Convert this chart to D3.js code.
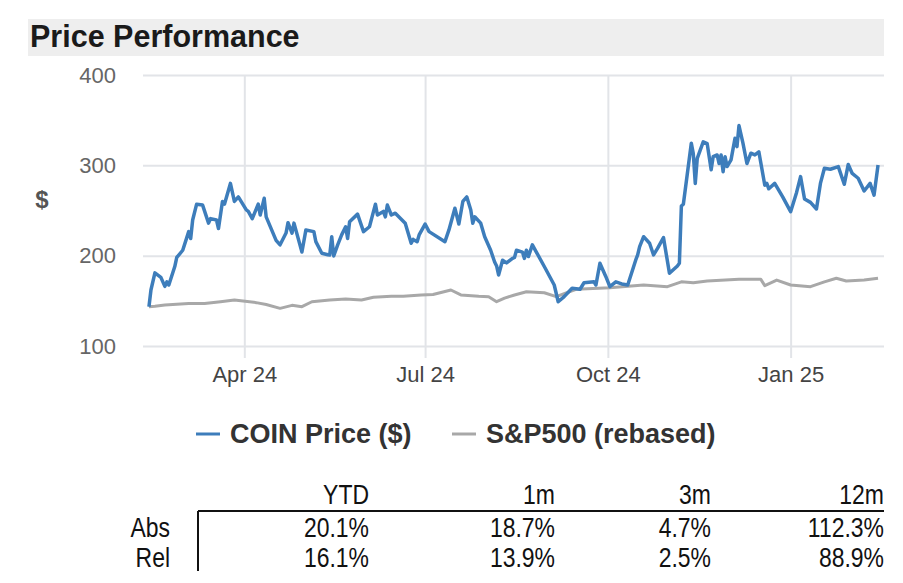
<!DOCTYPE html>
<html>
<head>
<meta charset="utf-8">
<script src="https://cdn.jsdelivr.net/npm/d3@7"></script>
<style>
  body { margin: 0; background: #fff; }
  svg { display: block; font-family: "Liberation Sans", Arial, sans-serif; }
</style>
</head>
<body>
<svg id="chart" width="903" height="583"></svg>
<script>
// COIN close prices
const coinDates = [
  "2024-02-13","2024-02-14","2024-02-16","2024-02-19","2024-02-21","2024-02-22","2024-02-23","2024-02-26","2024-02-27","2024-03-01",
  "2024-03-04","2024-03-05","2024-03-06","2024-03-08","2024-03-11","2024-03-14","2024-03-15","2024-03-18","2024-03-19","2024-03-21",
  "2024-03-22","2024-03-25","2024-03-27","2024-03-29","2024-04-02","2024-04-03","2024-04-05","2024-04-08","2024-04-09","2024-04-11",
  "2024-04-12","2024-04-17","2024-04-19","2024-04-22","2024-04-23","2024-04-25","2024-04-26","2024-04-30","2024-05-02","2024-05-06",
  "2024-05-07","2024-05-10","2024-05-13","2024-05-14","2024-05-15","2024-05-16","2024-05-18","2024-05-20","2024-05-22","2024-05-23",
  "2024-05-24","2024-05-28","2024-05-31","2024-06-03","2024-06-06","2024-06-07","2024-06-10","2024-06-11","2024-06-12","2024-06-14",
  "2024-06-16","2024-06-21","2024-06-24","2024-06-25","2024-06-27","2024-06-28","2024-07-01","2024-07-03","2024-07-11","2024-07-13",
  "2024-07-16","2024-07-18","2024-07-20","2024-07-22","2024-07-24","2024-07-25","2024-07-26","2024-07-29","2024-07-31","2024-08-03",
  "2024-08-05","2024-08-06","2024-08-07","2024-08-09","2024-08-11","2024-08-14","2024-08-15","2024-08-16","2024-08-19","2024-08-20",
  "2024-08-21","2024-08-22","2024-08-24","2024-08-26","2024-08-30","2024-09-04","2024-09-06","2024-09-09","2024-09-13","2024-09-17",
  "2024-09-19","2024-09-24","2024-09-25","2024-09-27","2024-09-30","2024-10-02","2024-10-05","2024-10-08","2024-10-11","2024-10-15",
  "2024-10-16","2024-10-17","2024-10-19","2024-10-22","2024-10-24","2024-10-26","2024-10-29","2024-11-01","2024-11-05","2024-11-06",
  "2024-11-07","2024-11-08","2024-11-12","2024-11-13","2024-11-14","2024-11-15","2024-11-18","2024-11-20","2024-11-22","2024-11-23",
  "2024-11-25","2024-11-26","2024-11-27","2024-11-28","2024-11-29","2024-11-30","2024-12-02","2024-12-04","2024-12-05","2024-12-06",
  "2024-12-08","2024-12-10","2024-12-12","2024-12-14","2024-12-16","2024-12-19","2024-12-20","2024-12-21","2024-12-24","2024-12-28",
  "2025-01-01","2025-01-04","2025-01-06","2025-01-08","2025-01-11","2025-01-14","2025-01-16","2025-01-18","2025-01-21","2025-01-25",
  "2025-01-28","2025-01-30","2025-02-01","2025-02-04","2025-02-07","2025-02-10","2025-02-12","2025-02-14"
];
const coinPrices = [
  143.5,162,181,176,166,171,167.5,188,198,206,
  226.6,219,239.5,257,256,236,241,239.5,230,260,
  257,280,260,265,250.6,249,241,257,245,263.5,
  243,217,212,225,236.5,225,236,204,228.5,226.6,
  215.5,202.6,201,200.8,221,199.7,212,223,232,219,
  237.6,246,226.6,232,257,245,249,243,256,245,
  247,236,213.7,218,215.5,223,235,226.6,215.5,228.5,
  252.5,235,260,265,250.6,236,243,236,221,206,
  193,188.6,178.6,195,192,197,198,206,204,197,
  206,199,212,204,188,167.5,149,154.6,164,162.8,
  170,171,167.5,191.6,176.7,165.7,171,168.7,167.5,195,
  200.8,210,221,213.7,200.8,208,220,180.5,188.6,191.6,
  255,257,324.5,313,280,307.8,326,324,295,309.6,
  311.5,302,311.5,293,309.6,298.6,306,330,320.7,344,
  324.5,302,313.4,311.5,315,278,280,274,280,265,
  248.7,270,287.5,262.8,259,251.7,280,296.8,295.7,298.6,
  279,301,291,285.7,271.6,280,267,300.4
];

// S&P500 rebased to COIN's start
const spxDates = [
  "2024-02-13","2024-02-16","2024-02-21","2024-03-04","2024-03-12","2024-03-20","2024-03-27","2024-04-07","2024-04-12","2024-04-19",
  "2024-04-25","2024-04-30","2024-05-05","2024-05-14","2024-05-22","2024-05-30","2024-06-05","2024-06-14","2024-06-20","2024-06-29",
  "2024-07-05","2024-07-14","2024-07-19","2024-07-28","2024-08-02","2024-08-06","2024-08-10","2024-08-15","2024-08-21","2024-08-30",
  "2024-09-05","2024-09-15","2024-10-02","2024-10-19","2024-10-31","2024-11-07","2024-11-13","2024-11-20","2024-12-06","2024-12-17",
  "2024-12-19","2024-12-25","2025-01-01","2025-01-11","2025-01-18","2025-01-24","2025-01-29","2025-02-07","2025-02-14"
];
const spxValues = [
  143.5,144,145.4,147,147,149,151,148,146,141.7,
  145,143.5,149,151,152,151,154,155,155,156.5,
  157,162,156.5,155,154.6,149,153,156.5,160,159,
  154.6,162.8,164.6,167.5,165.7,171,170,172,173.8,173.8,
  166.8,173,167.5,165.7,171,175,172,173,175
];

const yTicks = [100, 200, 300, 400];
const xTickDates = ["2024-04-01", "2024-07-01", "2024-10-01", "2025-01-01"];
const xTickLabels = ["Apr 24", "Jul 24", "Oct 24", "Jan 25"];

const tableCols = ["YTD", "1m", "3m", "12m"];
const tableRows = ["Abs", "Rel"];
const absValues = ["20.1%", "18.7%", "4.7%", "112.3%"];
const relValues = ["16.1%", "13.9%", "2.5%", "88.9%"];

const parse = d3.timeParse("%Y-%m-%d");
const coin = coinDates.map((d, i) => ({ date: parse(d), value: coinPrices[i] }));
const spx = spxDates.map((d, i) => ({ date: parse(d), value: spxValues[i] }));

const svg = d3.select("#chart");

// title band
svg.append("rect")
  .attr("x", 28).attr("y", 19)
  .attr("width", 856).attr("height", 37)
  .attr("fill", "#eeeeee");
svg.append("text")
  .text("Price Performance")
  .attr("x", 30).attr("y", 47)
  .attr("font-size", 30.5)
  .attr("font-weight", "bold")
  .attr("fill", "#1a1a1a");

const plotLeft = 143, plotRight = 884, plotTop = 75, plotBottom = 346;

const xScale = d3.scaleTime()
  .domain([parse("2024-02-10"), parse("2025-02-17")])
  .range([plotLeft, plotRight]);

const yScale = d3.scaleLinear()
  .domain([100, 400])
  .range([plotBottom, plotTop]);

// y axis + horizontal grid
const yAxis = svg.append("g")
  .attr("transform", `translate(${plotLeft},0)`)
  .call(d3.axisLeft(yScale).tickValues(yTicks).tickSize(-(plotRight - plotLeft)).tickPadding(27));
yAxis.select(".domain").remove();
yAxis.selectAll("line").attr("stroke", "#e2e4e8").attr("stroke-width", 2);
yAxis.selectAll("text")
  .attr("font-size", 22)
  .attr("fill", "#666")
  .attr("font-family", "Liberation Sans, Arial, sans-serif");

// x axis + vertical grid
const xAxis = svg.append("g")
  .attr("transform", `translate(0,${plotBottom + 12})`)
  .call(d3.axisBottom(xScale)
    .tickValues(xTickDates.map(parse))
    .tickFormat((d, i) => xTickLabels[i])
    .tickSize(-(plotBottom + 12 - plotTop))
    .tickPadding(8));
xAxis.select(".domain").remove();
xAxis.selectAll("line").attr("stroke", "#e2e4e8").attr("stroke-width", 2);
xAxis.selectAll("text")
  .attr("font-size", 22)
  .attr("fill", "#444")
  .attr("font-family", "Liberation Sans, Arial, sans-serif");

svg.append("text")
  .text("$")
  .attr("x", 42).attr("y", 208)
  .attr("text-anchor", "middle")
  .attr("font-size", 24)
  .attr("font-weight", "bold")
  .attr("fill", "#555");

const line = d3.line()
  .x(d => xScale(d.date))
  .y(d => yScale(d.value));

svg.append("path")
  .datum(spx)
  .attr("d", line)
  .attr("fill", "none")
  .attr("stroke", "#a8a8a8")
  .attr("stroke-width", 3)
  .attr("stroke-linejoin", "round");

svg.append("path")
  .datum(coin)
  .attr("d", line)
  .attr("fill", "none")
  .attr("stroke", "#3d7dbb")
  .attr("stroke-width", 3.5)
  .attr("stroke-linejoin", "round");

// legend
const legend = [
  { label: "COIN Price ($)", color: "#3d7dbb", x: 196 },
  { label: "S&P500 (rebased)", color: "#a8a8a8", x: 452 }
];
legend.forEach(l => {
  svg.append("line")
    .attr("x1", l.x).attr("x2", l.x + 24)
    .attr("y1", 434).attr("y2", 434)
    .attr("stroke", l.color).attr("stroke-width", 3);
  svg.append("text")
    .text(l.label)
    .attr("x", l.x + 34).attr("y", 443)
    .attr("font-size", 27)
    .attr("font-weight", "bold")
    .attr("fill", "#333");
});

// performance table (narrow face: regular face squeezed horizontally)
const colRight = [369, 555, 711, 884];

function cell(txt, x, y) {
  svg.append("g")
    .attr("transform", `translate(${x},${y}) scale(0.82,1)`)
    .append("text")
    .text(txt)
    .attr("text-anchor", "end")
    .attr("font-size", 28)
    .attr("fill", "#111");
}

tableCols.forEach((c, i) => cell(c, colRight[i], 504));

[absValues, relValues].forEach((vals, r) => {
  const y = 537 + r * 30;
  cell(tableRows[r], 170, y);
  vals.forEach((v, i) => cell(v, colRight[i], y));
});

svg.append("line")
  .attr("x1", 198).attr("x2", 884)
  .attr("y1", 511).attr("y2", 511)
  .attr("stroke", "#111").attr("stroke-width", 2);
svg.append("line")
  .attr("x1", 198).attr("x2", 198)
  .attr("y1", 511).attr("y2", 571)
  .attr("stroke", "#111").attr("stroke-width", 2);
</script>
</body>
</html>
